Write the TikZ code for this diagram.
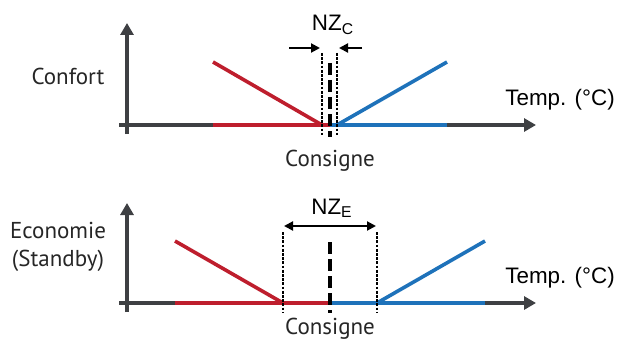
\documentclass[tikz,border=0pt]{standalone}
\usepackage{fontspec}
\setmainfont{Liberation Sans}
\newfontfamily\labfont{PT Sans}
\usetikzlibrary{arrows.meta}

\definecolor{heatred}{RGB}{190,30,45}
\definecolor{coolblue}{RGB}{30,114,186}
\definecolor{axisgray}{RGB}{62,64,67}

\tikzset{
  axis/.style={draw=axisgray, line width=2pt, -{Triangle[length=6pt,width=6.5pt]}},
  heat/.style={draw=heatred, line width=1.8pt},
  cool/.style={draw=coolblue, line width=1.8pt},
  zone/.style={line width=0.7pt, dash pattern=on 1.4pt off 0.7pt},
  setp/.style={line width=2pt, dash pattern=on 6pt off 2.5pt},
  nzarrow/.style={line width=1pt, -{Triangle[length=4.5pt,width=4.5pt]}},
  lab/.style={font=\labfont\fontsize{11.5}{14}\selectfont, text=black!85, align=center, inner sep=0pt},
  tlab/.style={font=\fontsize{11.2}{13}\selectfont, inner sep=0pt}
}

\begin{document}
\begin{tikzpicture}[x=0.5pt,y=-0.5pt]
\useasboundingbox (0,0) rectangle (619,342);

% Confort
\coordinate (cy0) at (127,134); \coordinate (cy1) at (127,23);
\coordinate (cx0) at (119,125); \coordinate (cx1) at (536,125);
\coordinate (cr0) at (213,125); \coordinate (cset) at (330,125); \coordinate (cb1) at (447,125);
\coordinate (crtop) at (213,62); \coordinate (cbtop) at (447,62);
\coordinate (cl) at (322,125); \coordinate (cr) at (337,125);
\draw[axis] (cy0) -- (cy1);
\draw[axis] (cx0) -- (cx1);
\draw[heat] (cr0) -- (cset);
\draw[cool] (cset) -- (cb1);
\draw[heat] (crtop) -- (cl);
\draw[cool] (cr) -- (cbtop);
\draw[zone] (322,53) -- (322,135);
\draw[zone] (337,53) -- (337,135);
\draw[setp] (330,63) -- (330,137);
\draw[nzarrow] (289,48) -- (320,48);
\draw[nzarrow] (362,48) -- (339,48);
\node[tlab] (nzc) at (333,25) {NZ\textsubscript{C}};
\node[lab] (confort) at (68,76) {Confort};
\node[lab] (cons1) at (330,161) {Consigne};
\node[tlab, anchor=west] (temp1) at (505,100) {Temp. (°C)};

% Economie
\coordinate (ey0) at (127,312); \coordinate (ey1) at (127,203);
\coordinate (ex0) at (119,303); \coordinate (ex1) at (536,303);
\coordinate (er0) at (175,303); \coordinate (eset) at (330,303); \coordinate (eb1) at (485,303);
\coordinate (ertop) at (175,241); \coordinate (ebtop) at (485,241);
\coordinate (el) at (283,303); \coordinate (er) at (377,303);
\draw[axis] (ey0) -- (ey1);
\draw[axis] (ex0) -- (ex1);
\draw[heat] (er0) -- (eset);
\draw[cool] (eset) -- (eb1);
\draw[heat] (ertop) -- (el);
\draw[cool] (er) -- (ebtop);
\draw[zone] (283,232) -- (283,312);
\draw[zone] (377,232) -- (377,312);
\draw[setp] (330,242) -- (330,313);
\draw[nzarrow, {Triangle[length=4.5pt,width=4.5pt]}-{Triangle[length=4.5pt,width=4.5pt]}] (284,226) -- (376,226);
\node[tlab] (nze) at (332,208) {NZ\textsubscript{E}};
\node[lab] (econ) at (58,247) {Economie\\(Standby)};
\node[lab] (cons2) at (330,329) {Consigne};
\node[tlab, anchor=west] (temp2) at (505,278) {Temp. (°C)};
\end{tikzpicture}
\end{document}
